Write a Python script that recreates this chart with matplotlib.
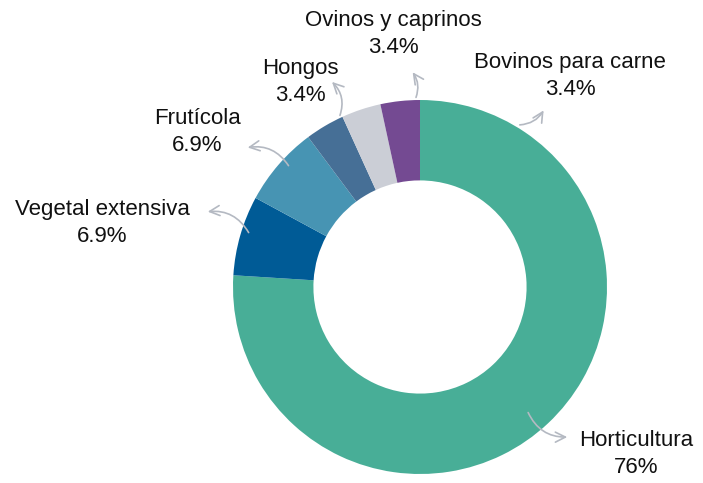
import matplotlib
matplotlib.use("Agg")
import matplotlib.pyplot as plt

# data
labels = ["Horticultura", "Vegetal extensiva", "Frutícola", "Hongos",
          "Ovinos y caprinos", "Bovinos para carne"]
values = [76, 6.9, 6.9, 3.4, 3.4, 3.4]
pct_text = ["76%", "6.9%", "6.9%", "3.4%", "3.4%", "3.4%"]
colors = ["#48ae97", "#005b96", "#4794b3", "#466f96", "#cbced6", "#744a92"]

W, H = 703, 483
fig = plt.figure(figsize=(W / 100, H / 100), dpi=100)
ax = fig.add_axes([0, 0, 1, 1])

# donut, pixel coordinates (y flipped)
cx, cy, R = 420, H - 287, 187
ax.pie(values, colors=colors, startangle=90, counterclock=False,
       center=(cx, cy), radius=R,
       wedgeprops=dict(width=R * 0.43, edgecolor="none"))

# label layout: text centre, arrow tail, arrow head, curvature
text_pos = [(636, 454), (102, 223), (197, 132), (300, 82), (393, 34), (570, 76)]
arrow_tail = [(527, 410), (250, 235), (290, 168), (339, 118), (415, 100), (517, 125)]
arrow_head = [(570, 437), (205, 212), (245, 148), (330, 80), (411, 70), (545, 108)]
arrow_rad = [0.35, 0.35, 0.35, 0.35, 0.3, 0.3]

for lab, p, tp, t, h, rad in zip(labels, pct_text, text_pos, arrow_tail, arrow_head, arrow_rad):
    ax.text(tp[0], H - tp[1], lab + "\n" + p, ha="center", va="center",
            fontsize=16, family="Liberation Sans", color="#111111", linespacing=1.4)
    ax.annotate("", xy=(h[0], H - h[1]), xytext=(t[0], H - t[1]),
                arrowprops=dict(arrowstyle="->", color="#b4b9c2", lw=1.2,
                                mutation_scale=18,
                                connectionstyle="arc3,rad=%s" % rad))

ax.set_xlim(0, W)
ax.set_ylim(0, H)
ax.set_aspect("equal")
ax.axis("off")

fig.savefig("out.png", dpi=100)
